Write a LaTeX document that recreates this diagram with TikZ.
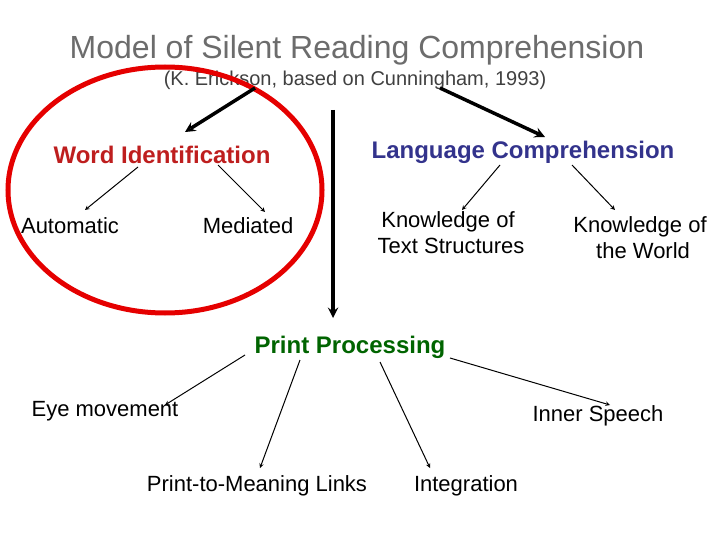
\documentclass[tikz,border=0pt]{standalone}
\usepackage{fontspec}
\setmainfont{Liberation Sans}
\begin{document}
\begin{tikzpicture}[x=1pt,y=-1pt,
  lbl/.style={font=\fontsize{22}{26}\selectfont,align=center,inner sep=0pt},
  hd/.style={font=\fontsize{24}{28}\selectfont\bfseries,inner sep=0pt},
  thin/.style={->,>=stealth,line width=1pt},
  thick/.style={->,>=stealth,line width=3.5pt}]
\useasboundingbox (0,0) rectangle (720,540);
\node[lbl,font=\fontsize{32}{36}\selectfont,text=gray!85!black] (title) at (357,50) {Model of Silent Reading Comprehension};
\node[lbl,font=\fontsize{20}{24}\selectfont,text=gray!50!black] (sub) at (355,80) {(K. Erickson, based on Cunningham, 1993)};
\node[hd,text={rgb,255:red,190;green,30;blue,30}] (wi) at (162,155) {Word Identification};
\node[hd,text={rgb,255:red,51;green,51;blue,140}] (lc) at (523,152) {Language Comprehension};
\node[lbl] (auto) at (70,226) {Automatic};
\node[lbl] (med) at (248,226) {Mediated};
\node[lbl] (kts) at (448,233) {Knowledge of\\\ Text Structures};
\node[lbl] (kw) at (640,238) {Knowledge of\\\ the World};
\node[hd,text={rgb,255:red,0;green,100;blue,0}] (pp) at (350,347) {Print Processing};
\node[lbl] (eye) at (105,411) {Eye movement};
\node[lbl] (is) at (598,416) {Inner Speech};
\node[lbl] (pml) at (257,486) {Print-to-Meaning Links};
\node[lbl] (int) at (466,486) {Integration};
\draw[red!90!black,line width=5pt] (165,190) ellipse [x radius=157,y radius=123];
\coordinate (s1) at (255,88); \coordinate (s2) at (440,88); \coordinate (s3) at (333,110);
\draw[thick] (s1) -- (185,132);
\draw[thick] (s2) -- (545,137);
\draw[thick] (s3) -- (333,318);
\draw[thin] (138,167) -- (85,210);
\draw[thin] (218,165) -- (265,212);
\draw[thin] (500,165) -- (462,210);
\draw[thin] (572,165) -- (615,210);
\draw[thin] (300,360) -- (260,468);
\draw[thin] (245,355) -- (165,405);
\draw[thin] (380,362) -- (430,468);
\draw[thin] (450,358) -- (610,405);
\end{tikzpicture}
\end{document}
